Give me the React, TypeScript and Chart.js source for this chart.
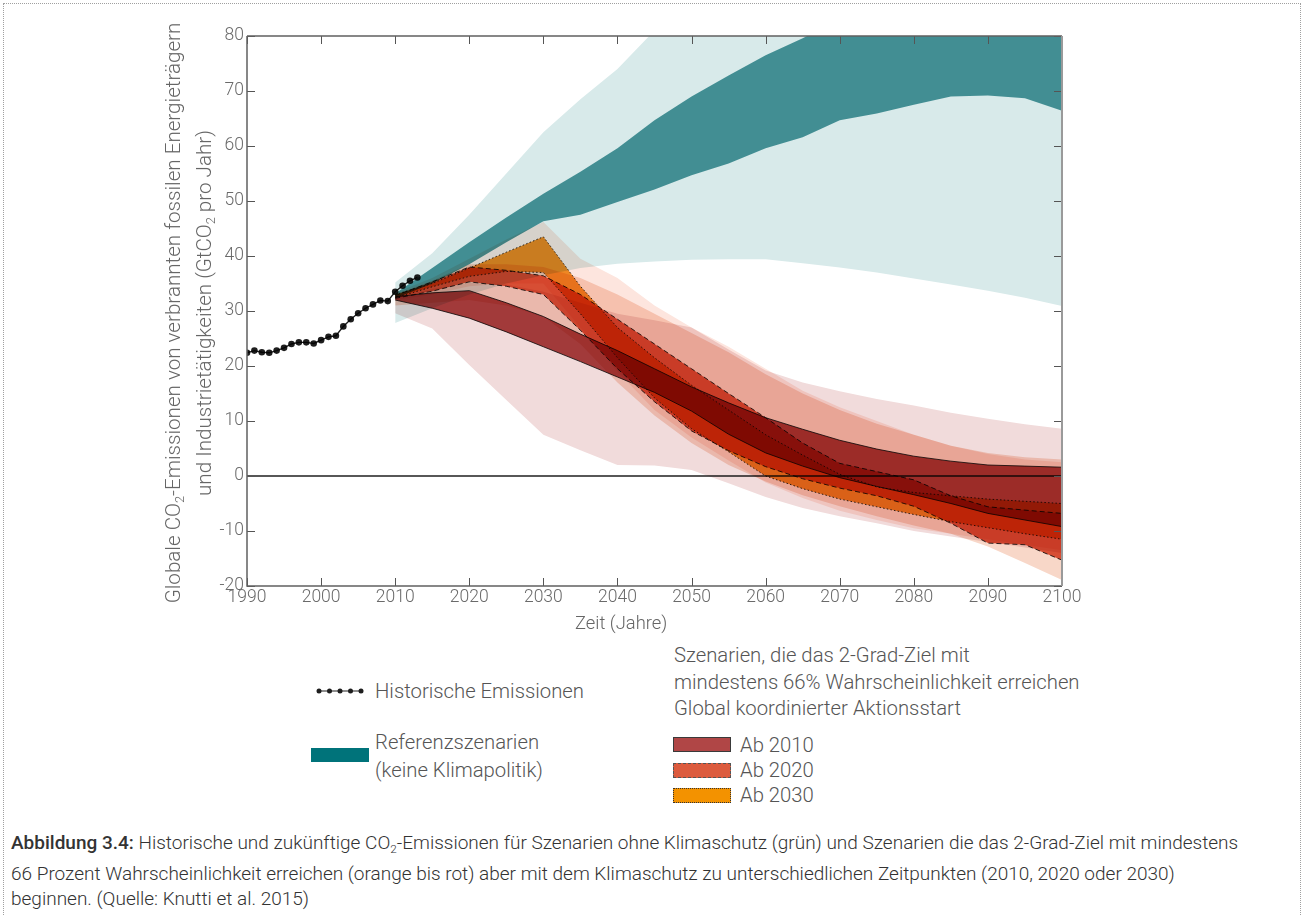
import React, { useEffect, useRef } from 'react';
import { Chart, registerables } from 'chart.js';

Chart.register(...registerables);

// ---------- data ----------
const histYears = [1990, 1991, 1992, 1993, 1994, 1995, 1996, 1997, 1998, 1999, 2000, 2001, 2002, 2003, 2004, 2005, 2006, 2007, 2008, 2009, 2010, 2011, 2012, 2013];
const histValues = [22.4, 22.8, 22.5, 22.4, 22.8, 23.3, 24.0, 24.3, 24.3, 24.1, 24.7, 25.3, 25.5, 27.2, 28.5, 29.6, 30.5, 31.2, 31.9, 31.8, 33.5, 34.6, 35.5, 36.1];

const scenarioYears = [2010, 2015, 2020, 2025, 2030, 2035, 2040, 2045, 2050, 2055, 2060, 2065, 2070, 2075, 2080, 2085, 2090, 2095, 2100];

// Referenzszenarien (keine Klimapolitik)
const refFullUpper = [35.2, 40.5, 47.5, 55, 62.5, 68.5, 74, 81, 88, 93, 98, 102, 105, 108, 110, 112, 113, 114, 115];
const refFullLower = [27.8, 30.5, 33, 35, 36.5, 37.8, 38.6, 39, 39.3, 39.4, 39.4, 38.7, 37.9, 37, 35.9, 34.8, 33.7, 32.4, 30.9];
const refCoreUpper = [33.2, 37.8, 42.5, 47, 51.3, 55.3, 59.6, 64.7, 69, 72.8, 76.5, 79.6, 83, 85, 87, 88, 89, 90, 90];
const refCoreLower = [32.3, 35, 38.5, 42.5, 46.3, 47.5, 49.8, 52.1, 54.7, 56.8, 59.6, 61.6, 64.7, 65.9, 67.5, 69, 69.2, 68.7, 66.4];

// full ranges of the 2-degree scenarios
const range2010Upper = [32.5, 34, 35.2, 34.8, 33.5, 31.5, 29.5, 28.3, 27, 23, 19.2, 17, 15.4, 14, 12.8, 11.5, 10.4, 9.4, 8.6];
const range2010Lower = [29.6, 26.8, 20.2, 13.8, 7.5, 4.7, 2.0, 1.9, 1.1, -1.3, -3.8, -5.8, -7.3, -8.6, -10, -11, -12, -13, -14];
const range2020Upper = [33, 35.5, 38.5, 38.5, 38, 36, 33, 29.5, 26, 22.5, 18.5, 15, 12, 9.5, 7.5, 5.5, 4.2, 3.4, 3.0];
const range2020Lower = [31, 31.5, 32, 31, 29, 24, 17, 11, 6, 2, -1, -3.5, -5.5, -7.3, -9, -10.5, -12.8, -15.8, -18.9];
const range2030Upper = [33.3, 36, 39.5, 43, 46.2, 39.5, 36, 31, 27, 23.5, 19.5, 15.5, 12.5, 10, 7.5, 5.5, 4, 3, 2.5];
const range2030Lower = [32, 33, 34.5, 35, 35, 27, 19, 12, 7, 2.8, -1.2, -4, -6.3, -8, -9.5, -10.5, -11.5, -12.5, -13.5];

// core ranges
const core2010Upper = [32.6, 33.3, 33.7, 31.5, 29, 25.8, 22.8, 19.5, 16.2, 13.3, 10.6, 8.5, 6.5, 4.9, 3.6, 2.7, 2.0, 1.8, 1.6];
const core2010Lower = [32.0, 30.5, 28.7, 26.2, 23.5, 20.8, 18.0, 15.2, 11.8, 7.6, 4.2, 1.8, -0.3, -1.9, -3.4, -5.0, -6.8, -8.0, -9.2];
const core2020Upper = [32.8, 35.3, 38.0, 37.4, 36.4, 33.0, 28.5, 24.0, 19.5, 15.0, 10.6, 6.0, 2.3, 0.8, -0.7, -3.6, -5.6, -6.2, -6.8];
const core2020Lower = [32.3, 33.6, 35.3, 34.5, 33.0, 26.5, 19.5, 13.5, 8.2, 4.6, 1.7, -0.5, -2.2, -3.6, -5.5, -8.6, -12.2, -12.5, -15.3];
const core2030Upper = [33.0, 35.0, 37.8, 40.7, 43.5, 34.5, 27.0, 21.5, 16.5, 12.0, 7.5, 3.8, 0.3, -2.0, -3.0, -3.6, -4.2, -4.6, -5.0];
const core2030Lower = [32.4, 34.4, 36.3, 37.2, 37.0, 29.5, 21.5, 14.2, 8.6, 4.4, 0.0, -2.3, -4.2, -5.6, -7.0, -8.3, -9.4, -10.5, -11.5];

const zeroYears = [1990, 2100];
const zeroValues = [0, 0];

// ---------- helpers ----------
const pts = (xs: number[], ys: number[]) => xs.map((x, i) => ({ x, y: ys[i] }));

type LineStyle = { color: string; dash: number[]; width: number };

function band(upper: number[], lower: number[], color: string, line?: LineStyle) {
  const common = {
    type: 'line' as const,
    pointRadius: 0,
    pointHoverRadius: 0,
    tension: 0,
    borderWidth: line ? line.width : 0,
    borderColor: line ? line.color : 'rgba(0,0,0,0)',
    borderDash: line ? line.dash : [],
    backgroundColor: color,
  };
  return [
    { ...common, data: pts(scenarioYears, upper), fill: '+1' },
    { ...common, data: pts(scenarioYears, lower), fill: false },
  ];
}

const multiplyPlugin = {
  id: 'multiplyBlend',
  beforeDatasetsDraw(chart: any) {
    chart.ctx.save();
    chart.ctx.globalCompositeOperation = 'multiply';
  },
  afterDatasetsDraw(chart: any) {
    chart.ctx.restore();
  },
};

const frameTicksPlugin = {
  id: 'frameTicks',
  afterDraw(chart: any) {
    const { ctx, chartArea: a, scales } = chart;
    const x = scales.x;
    const y = scales.y;
    ctx.save();
    ctx.strokeStyle = '#555';
    ctx.lineWidth = 1;
    ctx.beginPath();
    x.ticks.forEach((t: any) => {
      const px = Math.round(x.getPixelForValue(t.value)) + 0.5;
      ctx.moveTo(px, a.bottom);
      ctx.lineTo(px, a.bottom - 8);
      ctx.moveTo(px, a.top);
      ctx.lineTo(px, a.top + 8);
    });
    y.ticks.forEach((t: any) => {
      const py = Math.round(y.getPixelForValue(t.value)) + 0.5;
      ctx.moveTo(a.left, py);
      ctx.lineTo(a.left + 8, py);
      ctx.moveTo(a.right, py);
      ctx.lineTo(a.right - 8, py);
    });
    ctx.stroke();
    ctx.lineWidth = 1.5;
    ctx.strokeStyle = '#606060';
    ctx.beginPath();
    ctx.moveTo(a.left, a.top);
    ctx.lineTo(a.right, a.top);
    ctx.moveTo(a.left, a.top);
    ctx.lineTo(a.left, a.bottom);
    ctx.lineTo(a.right, a.bottom);
    ctx.stroke();
    ctx.strokeStyle = '#9a9a9a';
    ctx.lineWidth = 2;
    ctx.beginPath();
    ctx.moveTo(a.right, a.top);
    ctx.lineTo(a.right, a.bottom);
    ctx.stroke();
    ctx.restore();
  },
};

const tickFont = { family: 'Roboto', size: 17.5, weight: '300' as any };

export default function App() {
  const ref = useRef<HTMLCanvasElement>(null);

  useEffect(() => {
    const datasets: any[] = [
      {
        type: 'line',
        data: pts(zeroYears, zeroValues),
        borderColor: '#1e1e1e',
        borderWidth: 1.3,
        pointRadius: 0,
        fill: false,
      },
      {
        type: 'line',
        data: pts(histYears, histValues),
        borderColor: '#1e1e1e',
        borderWidth: 1.4,
        pointRadius: 3.3,
        pointBackgroundColor: '#1e1e1e',
        pointBorderWidth: 0,
        fill: false,
        tension: 0,
      },
      ...band(core2030Upper, core2030Lower, 'rgb(240,150,40)', { color: '#333', dash: [1.5, 2.2], width: 1 }),
      ...band(core2020Upper, core2020Lower, 'rgb(221,92,66)', { color: '#333', dash: [5, 3], width: 1 }),
      ...band(core2010Upper, core2010Lower, 'rgb(172,67,67)', { color: '#3a3a3a', dash: [], width: 1 }),
      ...band(range2030Upper, range2030Lower, 'rgb(253,229,222)'),
      ...band(range2020Upper, range2020Lower, 'rgb(248,215,200)'),
      ...band(range2010Upper, range2010Lower, 'rgb(241,219,219)'),
      ...band(refCoreUpper, refCoreLower, 'rgb(78,155,160)'),
      ...band(refFullUpper, refFullLower, 'rgb(216,234,234)'),
    ];

    const chart = new Chart(ref.current as HTMLCanvasElement, {
      type: 'line',
      data: { datasets },
      options: {
        animation: false,
        responsive: false,
        events: [],
        layout: { padding: { left: 0, right: 38, top: 16, bottom: 0 } },
        plugins: {
          legend: { display: false },
          tooltip: { enabled: false },
        },
        scales: {
          x: {
            type: 'linear',
            min: 1990,
            max: 2100,
            ticks: {
              stepSize: 10,
              autoSkip: false,
              maxRotation: 0,
              padding: 1,
              color: '#6a6a6a',
              font: tickFont,
              callback: (v: any) => String(v),
            },
            grid: { display: false, drawTicks: false },
            border: { display: false },
            afterFit: (s: any) => {
              s.height = 54;
            },
          },
          y: {
            type: 'linear',
            min: -20,
            max: 80,
            ticks: {
              stepSize: 10,
              padding: 3,
              color: '#6a6a6a',
              font: tickFont,
              callback: (v: any) => String(v),
            },
            grid: { display: false, drawTicks: false },
            border: { display: false },
            afterFit: (s: any) => {
              s.width = 97;
            },
          },
        },
      },
      plugins: [multiplyPlugin, frameTicksPlugin],
    } as any);
    return () => chart.destroy();
  }, []);

  const legendText: React.CSSProperties = {
    position: 'absolute',
    fontFamily: 'Roboto, sans-serif',
    fontWeight: 300,
    fontSize: 20.3,
    color: '#555',
    whiteSpace: 'nowrap',
  };
  const sub: React.CSSProperties = { fontSize: '0.62em', verticalAlign: '-0.3em' };

  return (
    <div
      style={{
        position: 'fixed',
        left: 0,
        top: 0,
        width: 1305,
        height: 915,
        background: '#fff',
        overflow: 'hidden',
        fontFamily: 'Roboto, sans-serif',
      }}
    >
      <div
        style={{
          position: 'absolute',
          left: 3,
          top: 3,
          width: 1296,
          height: 1000,
          border: '1px dotted #a0a0a0',
        }}
      />
      <canvas
        ref={ref}
        width={950}
        height={620}
        style={{ position: 'absolute', left: 150, top: 20, width: 950, height: 620 }}
      />

      {/* y axis title */}
      <div
        style={{
          position: 'absolute',
          left: 184.5 - 350,
          top: 312.5 - 24,
          width: 700,
          height: 48,
          textAlign: 'center',
          fontFamily: 'Roboto, sans-serif',
          fontWeight: 300,
          fontSize: 20.6,
          lineHeight: '24px',
          color: '#666',
          whiteSpace: 'nowrap',
          transform: 'rotate(-90deg)',
          transformOrigin: '50% 50%',
        }}
      >
        Globale CO<span style={sub}>2</span>-Emissionen von verbrannten fossilen Energieträgern
        <br />
        und Industrietätigkeiten (GtCO<span style={sub}>2</span> pro Jahr)
      </div>

      <div style={{ ...legendText, left: 575, top: 611, fontSize: 18.4, lineHeight: '24px', color: '#666' }}>
        Zeit (Jahre)
      </div>

      {/* left legend */}
      <svg style={{ position: 'absolute', left: 315, top: 685 }} width={50} height={12}>
        <line x1={4} y1={6} x2={46} y2={6} stroke="#1e1e1e" strokeWidth={1.2} />
        {[4, 14.5, 25, 35.5, 46].map((cx) => (
          <circle key={cx} cx={cx} cy={6} r={2.5} fill="#1e1e1e" />
        ))}
      </svg>
      <div style={{ ...legendText, left: 375, top: 679, lineHeight: '24px' }}>Historische Emissionen</div>

      <div style={{ position: 'absolute', left: 311, top: 748, width: 58, height: 14, background: '#00737a' }} />
      <div style={{ ...legendText, left: 375, top: 728, lineHeight: '28px' }}>
        Referenzszenarien
        <br />
        (keine Klimapolitik)
      </div>

      {/* right legend */}
      <div style={{ ...legendText, left: 674, top: 642, lineHeight: '26.5px' }}>
        Szenarien, die das 2-Grad-Ziel mit
        <br />
        mindestens 66% Wahrscheinlichkeit erreichen
        <br />
        Global koordinierter Aktionsstart
      </div>

      <div
        style={{
          position: 'absolute',
          left: 673,
          top: 737,
          width: 58,
          height: 15,
          boxSizing: 'border-box',
          background: '#b04646',
          border: '1.5px solid #3a3a3a',
        }}
      />
      <div style={{ ...legendText, left: 740, top: 733, lineHeight: '24px' }}>Ab 2010</div>

      <div
        style={{
          position: 'absolute',
          left: 673,
          top: 763,
          width: 58,
          height: 15,
          boxSizing: 'border-box',
          background: '#dc5b3e',
          border: '1.5px dashed #555',
        }}
      />
      <div style={{ ...legendText, left: 740, top: 758, lineHeight: '24px' }}>Ab 2020</div>

      <div
        style={{
          position: 'absolute',
          left: 673,
          top: 788,
          width: 58,
          height: 15,
          boxSizing: 'border-box',
          background: '#f39200',
          border: '1.5px dotted #333',
        }}
      />
      <div style={{ ...legendText, left: 740, top: 783, lineHeight: '24px' }}>Ab 2030</div>

      {/* caption */}
      <div
        style={{
          position: 'absolute',
          left: 11,
          top: 829.5,
          fontFamily: 'Roboto, sans-serif',
          fontWeight: 300,
          fontSize: 19,
          lineHeight: '25px',
          color: '#333',
          whiteSpace: 'nowrap',
        }}
      >
        <span style={{ fontWeight: 500 }}>Abbildung 3.4:</span> Historische und zukünftige CO
        <span style={sub}>2</span>-Emissionen für Szenarien ohne Klimaschutz (grün) und Szenarien die das
        2-Grad-Ziel mit mindestens
        <br />
        66 Prozent Wahrscheinlichkeit erreichen (orange bis rot) aber mit dem Klimaschutz zu unterschiedlichen
        Zeitpunkten (2010, 2020 oder 2030)
        <br />
        beginnen. (Quelle: Knutti et al. 2015)
      </div>
    </div>
  );
}
